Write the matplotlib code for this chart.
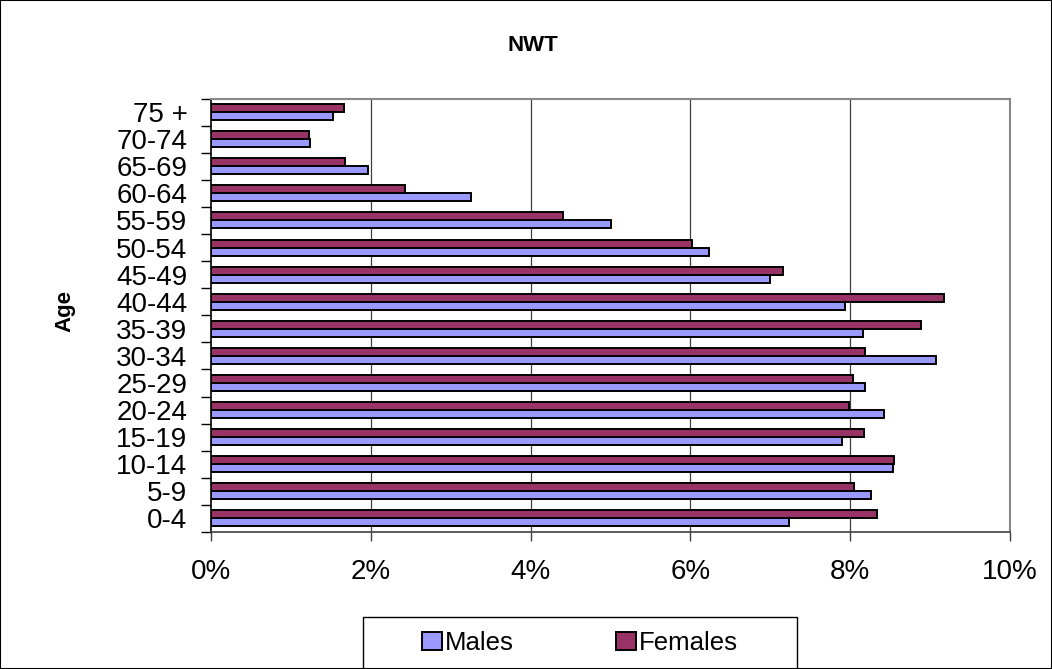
import matplotlib
matplotlib.use("Agg")
import matplotlib.pyplot as plt
import numpy as np
from matplotlib.patches import Rectangle

categories = ["0-4", "5-9", "10-14", "15-19", "20-24", "25-29", "30-34", "35-39",
              "40-44", "45-49", "50-54", "55-59", "60-64", "65-69", "70-74", "75 +"]
males = [7.23, 8.26, 8.54, 7.90, 8.42, 8.18, 9.08, 8.16,
         7.93, 6.99, 6.23, 5.01, 3.25, 1.97, 1.24, 1.53]
females = [8.33, 8.05, 8.55, 8.17, 7.98, 8.03, 8.18, 8.89,
           9.18, 7.16, 6.02, 4.40, 2.43, 1.68, 1.23, 1.66]
xticks = [0, 2, 4, 6, 8, 10]
xticklabels = ["0%", "2%", "4%", "6%", "8%", "10%"]

plt.rcParams['font.family'] = ['Liberation Sans', 'DejaVu Sans']

W, H = 1052, 669
fig = plt.figure(figsize=(W / 100, H / 100), dpi=100)
ax = fig.add_axes([211 / W, 1 - 532 / H, (1010 - 211) / W, (532 - 98.5) / H])

n = len(categories)
y = np.arange(n)
bh = 0.295
ax.barh(y - bh / 2, males, height=bh, color="#9999FF", edgecolor="black",
        linewidth=1.4, label="Males", zorder=3)
ax.barh(y + bh / 2, females, height=bh, color="#993366", edgecolor="black",
        linewidth=1.4, label="Females", zorder=3)

ax.set_xlim(0, 10)
ax.set_ylim(-0.5, n - 0.5)
ax.set_xticks(xticks)
ax.set_xticklabels(xticklabels, fontsize=20)
ax.set_yticks(y)
ax.set_yticklabels(categories, fontsize=20)
ax.tick_params(axis='y', which='major', length=0, pad=17)
ax.set_yticks(np.arange(-0.5, n, 1.0), minor=True)
ax.tick_params(axis='y', which='minor', length=7, width=1, color='black', direction='out')
ax.tick_params(axis='x', which='major', length=6.5, width=1, color='#404040', pad=13)

for xv in xticks[1:]:
    ax.axvline(xv, color='#404040', lw=0.9, zorder=1)

for s in ['top', 'right']:
    ax.spines[s].set_color('#888888')
    ax.spines[s].set_linewidth(1.5)
ax.spines['left'].set_color('black')
ax.spines['left'].set_linewidth(1.2)
ax.spines['bottom'].set_color('#404040')
ax.spines['bottom'].set_linewidth(1.2)

fig.text(533 / W, 1 - 51 / H, "NWT", ha='center', va='baseline',
         fontsize=16, fontweight='bold')
fig.text(65 / W, 1 - 311 / H, "Age", ha='center', va='center',
         fontsize=16, fontweight='bold', rotation=90)

# legend frame
fig.patches.append(Rectangle((363 / W, 0), (797 - 363) / W, 52 / H,
                             transform=fig.transFigure, fill=False,
                             edgecolor='black', lw=1.0))
handles, labels = ax.get_legend_handles_labels()
fig.legend(handles, labels, loc='center', bbox_to_anchor=(580 / W, 1 - 643 / H),
           ncol=2, frameon=False, fontsize=18.5, handlelength=0.75, handleheight=0.75,
           handletextpad=0.12, columnspacing=4.0)

# figure border
fig.patches.append(Rectangle((0, 0), 1, 1, transform=fig.transFigure, fill=False,
                             edgecolor='black', lw=1.5))

fig.savefig("out.png", dpi=100)
